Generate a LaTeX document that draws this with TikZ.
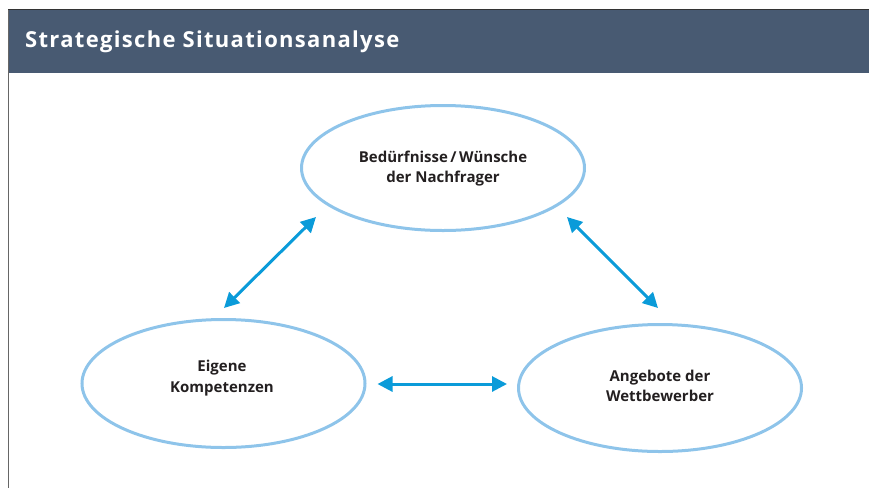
\documentclass[tikz,border=0pt]{standalone}
\usepackage{fontspec}
\setmainfont{Open Sans}
\newfontfamily\titlefont[LetterSpace=6]{Open Sans}
\usetikzlibrary{arrows.meta,shapes.geometric}
\definecolor{headbg}{HTML}{485A72}
\definecolor{ellc}{HTML}{8EC4EA}
\definecolor{arrc}{HTML}{0A9BD9}
\definecolor{txtc}{HTML}{231F20}
\tikzset{
  bubble/.style={ellipse, draw=ellc, line width=3pt, inner sep=0pt},
  bubbletext/.style={align=center, text=txtc, font=\fontsize{15}{20.5}\selectfont\bfseries, inner sep=0pt},
  link/.style={draw=arrc, line width=3pt, {Triangle[length=15pt,width=15pt]}-{Triangle[length=15pt,width=15pt]}},
}
\begin{document}
\begin{tikzpicture}[x=1pt,y=-1pt]
\useasboundingbox (0,0) rectangle (869,488);
% header
\fill[headbg] (8.5,10) rectangle (869,73);
\draw[draw=black!80, line width=1.5pt] (8,9.5) -- (869,9.5);
\draw[draw=black!60, line width=1.5pt] (8.5,9.5) -- (8.5,488);
\node[anchor=base west, text=white, inner sep=0pt, font=\titlefont\fontsize{22}{24}\selectfont\bfseries] (title) at (25,47.5) {Strategische Situationsanalyse};
% ellipses
\node[bubble, minimum width=283pt, minimum height=125pt] (top) at (443,168) {};
\node[bubble, minimum width=283pt, minimum height=128pt] (left) at (223.5,383.5) {};
\node[bubble, minimum width=283pt, minimum height=127pt] (right) at (660,388) {};
\node[bubbletext] (topt) at (443,168.5) {Bedürfnisse\,/\,Wünsche\\der Nachfrager};
\node[bubbletext] (leftt) at (222,378) {Eigene\\Kompetenzen};
\node[bubbletext] (rightt) at (660,386) {Angebote der\\Wettbewerber};
% arrows
\draw[link] ([shift={(0.5,-10)}]left.north) -- ([shift={(-127,49)}]top.center);
\draw[link] ([shift={(124,49)}]top.center) -- ([shift={(-2,-15)}]right.north);
\draw[link] ([shift={(11,0.5)}]left.east) -- ([shift={(-10,-4)}]right.west);
\end{tikzpicture}
\end{document}
